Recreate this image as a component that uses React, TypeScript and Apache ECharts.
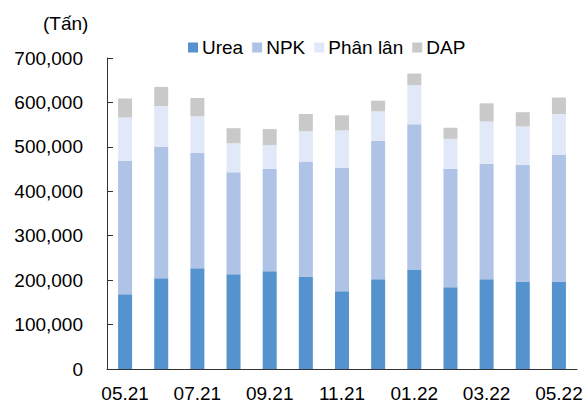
import React, { useEffect, useRef } from "react";
import * as echarts from "echarts";

const months = ["05.21", "06.21", "07.21", "08.21", "09.21", "10.21", "11.21", "12.21", "01.22", "02.22", "03.22", "04.22", "05.22"];
const urea = [168000, 204000, 227000, 213000, 220000, 208000, 175000, 202000, 223000, 184000, 202000, 197000, 197000];
const npk = [300000, 296000, 259000, 230000, 231000, 259000, 278000, 312000, 328000, 267000, 260000, 262000, 285000];
const phanLan = [98000, 92000, 83000, 65000, 53000, 68000, 84000, 66000, 88000, 67000, 95000, 87000, 92000];
const dap = [43000, 43000, 41000, 34000, 36000, 39000, 34000, 24000, 26000, 25000, 41000, 32000, 37000];
const seriesNames = ["Urea", "NPK", "Phân lân", "DAP"];
const unitLabel = "(Tấn)";

const FONT = "'Liberation Sans', Arial, sans-serif";
const colors = ["#5593CF", "#AFC3E6", "#E1E8F7", "#C9C9C9"];

export default function App() {
  const ref = useRef<HTMLDivElement>(null);
  useEffect(() => {
    if (!ref.current) return;
    const chart = echarts.init(ref.current, null, { renderer: "svg" });
    const datas = [urea, npk, phanLan, dap];
    chart.setOption({
      animation: false,
      textStyle: { fontFamily: FONT },
      color: colors,
      grid: { left: 107, right: 9, top: 58, bottom: 30, containLabel: false },
      legend: {
        data: seriesNames,
        left: 183,
        top: 33,
        itemWidth: 10,
        itemHeight: 10,
        itemGap: 9,
        icon: "rect",
        textStyle: { fontSize: 19, color: "#000", fontFamily: FONT, padding: [0, 0, 0, -1] },
      },
      graphic: [
        {
          type: "text",
          left: 43,
          top: 14,
          style: { text: unitLabel, fontSize: 19, fill: "#000", fontFamily: FONT },
        },
      ],
      xAxis: [
        {
          type: "category",
          data: months,
          axisLine: { lineStyle: { color: "#333", width: 1 } },
          axisTick: { inside: true, alignWithLabel: true, interval: 0, length: 5, lineStyle: { color: "#333" } },
          axisLabel: { interval: 1, fontSize: 19, color: "#000", margin: 15, fontFamily: FONT },
        },
        {
          type: "category",
          data: months,
          position: "bottom",
          axisLine: { show: false },
          axisTick: { inside: true, interval: 0, length: 5, lineStyle: { color: "#333" } },
          axisLabel: { show: false },
        },
      ],
      yAxis: {
        type: "value",
        min: 0,
        max: 700000,
        interval: 100000,
        axisLine: { show: true, lineStyle: { color: "#333" } },
        axisTick: { show: true, inside: true, length: 6, lineStyle: { color: "#333" } },
        splitLine: { show: false },
        axisLabel: {
          fontSize: 19,
          color: "#000",
          margin: 24,
          fontFamily: FONT,
          formatter: (v: number) => v.toLocaleString("en-US"),
        },
      },
      series: seriesNames.map((name, i) => ({
        name,
        type: "bar",
        stack: "total",
        barWidth: 14,
        data: datas[i],
        itemStyle: { color: colors[i] },
      })),
    });
    return () => chart.dispose();
  }, []);
  return <div ref={ref} style={{ position: "absolute", left: 0, top: 0, width: 586, height: 403 }} />;
}
